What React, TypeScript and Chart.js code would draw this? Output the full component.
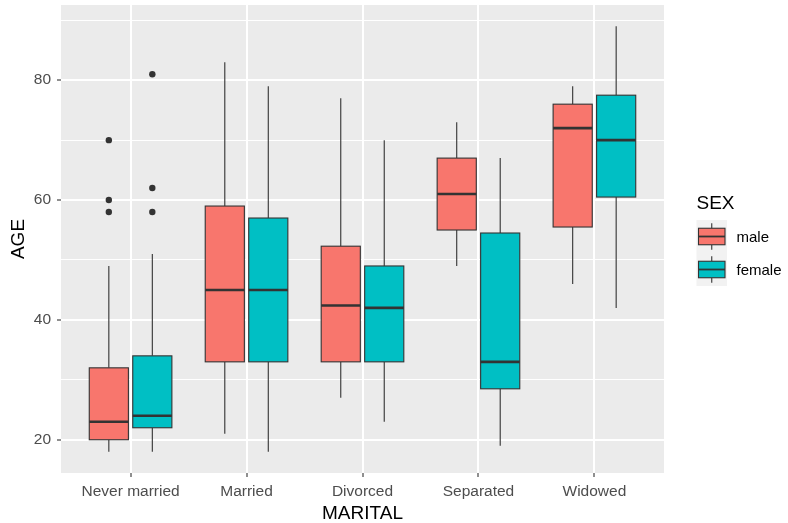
import React, { useEffect, useRef } from 'react';
import { Chart, registerables } from 'chart.js';

Chart.register(...registerables);

const categories = ['Never married', 'Married', 'Divorced', 'Separated', 'Widowed'];
const seriesNames = ['male', 'female'];

const maleMin = [18, 21, 27, 49, 46];
const maleQ1 = [20, 33, 33, 55, 55.5];
const maleMedian = [23, 45, 42.4, 61, 72];
const maleQ3 = [32, 59, 52.3, 67, 76];
const maleMax = [49, 83, 77, 73, 79];
const maleOutliers = [[70, 60, 58], [], [], [], []];

const femaleMin = [18, 18, 23, 19, 42];
const femaleQ1 = [22, 33, 33, 28.5, 60.5];
const femaleMedian = [24, 45, 42, 33, 70];
const femaleQ3 = [34, 57, 49, 54.5, 77.5];
const femaleMax = [51, 79, 70, 67, 89];
const femaleOutliers = [[81, 62, 58], [], [], [], []];

const yTicks = [20, 30, 40, 50, 60, 70, 80, 90];
const yMin = 14.45;
const yMax = 92.55;

const FONT = '"Liberation Sans", Arial, Helvetica, sans-serif';
const MALE_COLOR = '#F8766D';
const FEMALE_COLOR = '#00BFC4';
const OUTLINE = '#333333';

export default function App() {
  const ref = useRef<HTMLCanvasElement>(null);

  useEffect(() => {
    const canvas = ref.current;
    if (!canvas) return;
    const groupOffset = 0.1875;
    const boxHalf = 0.16875;
    const groups = [
      { name: seriesNames[0], color: MALE_COLOR, offset: -groupOffset, min: maleMin, q1: maleQ1, med: maleMedian, q3: maleQ3, max: maleMax, out: maleOutliers },
      { name: seriesNames[1], color: FEMALE_COLOR, offset: groupOffset, min: femaleMin, q1: femaleQ1, med: femaleMedian, q3: femaleQ3, max: femaleMax, out: femaleOutliers },
    ];
    const outlierPoints: { x: number; y: number }[] = [];
    groups.forEach((g) =>
      g.out.forEach((arr, i) => arr.forEach((v) => outlierPoints.push({ x: i + 1 + g.offset, y: v })))
    );

    const boxPlugin = {
      id: 'boxes',
      beforeDraw(chart: any) {
        const { ctx, chartArea: a } = chart;
        ctx.save();
        ctx.fillStyle = '#EBEBEB';
        ctx.fillRect(a.left, a.top, a.right - a.left, a.bottom - a.top);
        ctx.restore();
      },
      beforeDatasetsDraw(chart: any) {
        const { ctx } = chart;
        const xs = chart.scales.x;
        const ys = chart.scales.y;
        ctx.save();
        groups.forEach((g) => {
          categories.forEach((_, i) => {
            const c = i + 1 + g.offset;
            const xc = xs.getPixelForValue(c);
            const xl = xs.getPixelForValue(c - boxHalf);
            const xr = xs.getPixelForValue(c + boxHalf);
            const yMinP = ys.getPixelForValue(g.min[i]);
            const yQ1 = ys.getPixelForValue(g.q1[i]);
            const yMed = ys.getPixelForValue(g.med[i]);
            const yQ3 = ys.getPixelForValue(g.q3[i]);
            const yMaxP = ys.getPixelForValue(g.max[i]);
            ctx.strokeStyle = OUTLINE;
            ctx.lineWidth = 1.1;
            ctx.beginPath();
            ctx.moveTo(xc, yQ3);
            ctx.lineTo(xc, yMaxP);
            ctx.moveTo(xc, yQ1);
            ctx.lineTo(xc, yMinP);
            ctx.stroke();
            ctx.fillStyle = g.color;
            ctx.fillRect(xl, yQ3, xr - xl, yQ1 - yQ3);
            ctx.lineWidth = 1.1;
            ctx.strokeRect(xl, yQ3, xr - xl, yQ1 - yQ3);
            ctx.lineWidth = 2.6;
            ctx.beginPath();
            ctx.moveTo(xl, yMed);
            ctx.lineTo(xr, yMed);
            ctx.stroke();
          });
        });
        ctx.restore();
      },
      afterDraw(chart: any) {
        const { ctx, chartArea: a } = chart;
        ctx.save();
        ctx.fillStyle = '#000000';
        ctx.font = `19px ${FONT}`;
        ctx.textAlign = 'center';
        ctx.textBaseline = 'alphabetic';
        ctx.fillText('MARITAL', (a.left + a.right) / 2, 519);
        ctx.save();
        ctx.translate(23.5, (a.top + a.bottom) / 2);
        ctx.rotate(-Math.PI / 2);
        ctx.fillText('AGE', 0, 0);
        ctx.restore();
        ctx.textAlign = 'left';
        ctx.fillText('SEX', 696.5, 209);
        const keyLeft = 696.5;
        const keyW = 30.5;
        const keyH = 33;
        const keyTop = 220;
        ctx.fillStyle = '#F2F2F2';
        ctx.fillRect(keyLeft, keyTop, keyW, keyH * groups.length);
        groups.forEach((g, k) => {
          const top = keyTop + k * keyH;
          const cx = keyLeft + keyW / 2;
          const bl = keyLeft + 2;
          const br = keyLeft + keyW - 2;
          const bt = top + keyH * 0.25;
          const bb = top + keyH * 0.75;
          ctx.strokeStyle = OUTLINE;
          ctx.lineWidth = 1.1;
          ctx.beginPath();
          ctx.moveTo(cx, top + keyH * 0.1);
          ctx.lineTo(cx, bt);
          ctx.moveTo(cx, bb);
          ctx.lineTo(cx, top + keyH * 0.9);
          ctx.stroke();
          ctx.fillStyle = g.color;
          ctx.fillRect(bl, bt, br - bl, bb - bt);
          ctx.strokeRect(bl, bt, br - bl, bb - bt);
          ctx.lineWidth = 1.8;
          ctx.beginPath();
          ctx.moveTo(bl, top + keyH / 2);
          ctx.lineTo(br, top + keyH / 2);
          ctx.stroke();
          ctx.fillStyle = '#000000';
          ctx.font = `15px ${FONT}`;
          ctx.fillText(g.name, 736.5, top + keyH / 2 + 5.4);
        });
        ctx.restore();
      },
    };

    const chart = new Chart(canvas, {
      type: 'scatter',
      data: {
        datasets: [
          {
            label: 'outliers',
            data: outlierPoints,
            pointRadius: 3.2,
            pointHoverRadius: 3.2,
            backgroundColor: OUTLINE,
            borderWidth: 0,
          },
        ],
      },
      options: {
        animation: false,
        responsive: false,
        events: [],
        layout: { padding: { left: 0, top: 5, right: 124, bottom: 0 } },
        plugins: { legend: { display: false }, tooltip: { enabled: false } },
        scales: {
          x: {
            type: 'linear',
            min: 0.4,
            max: 5.6,
            afterBuildTicks: (scale: any) => {
              scale.ticks = categories.map((_, i) => ({ value: i + 1 }));
            },
            afterFit: (scale: any) => {
              scale.height = 50;
              scale.paddingLeft = 0;
              scale.paddingRight = 0;
              scale.paddingTop = 0;
              scale.paddingBottom = 0;
            },
            border: { display: false },
            grid: {
              color: '#FFFFFF',
              lineWidth: 2,
              tickColor: OUTLINE,
              tickWidth: 1.1,
              tickLength: 4,
            },
            ticks: {
              autoSkip: false,
              maxRotation: 0,
              minRotation: 0,
              padding: 5,
              color: '#4D4D4D',
              font: { family: FONT, size: 15.5 },
              callback: (v: any) => categories[Math.round(Number(v)) - 1] ?? '',
            },
          },
          y: {
            type: 'linear',
            min: yMin,
            max: yMax,
            afterBuildTicks: (scale: any) => {
              scale.ticks = yTicks.map((v) => ({ value: v }));
            },
            afterFit: (scale: any) => {
              scale.width = 61;
              scale.paddingLeft = 0;
              scale.paddingRight = 0;
              scale.paddingTop = 0;
              scale.paddingBottom = 0;
            },
            border: { display: false },
            grid: {
              color: '#FFFFFF',
              lineWidth: (c: any) => (c.tick && c.tick.value % 20 === 0 ? 2 : 1),
              tickColor: (c: any) => (c.tick && c.tick.value % 20 === 0 ? OUTLINE : 'rgba(0,0,0,0)'),
              tickWidth: 1.1,
              tickLength: 4,
            },
            ticks: {
              padding: 6,
              color: '#4D4D4D',
              font: { family: FONT, size: 15.5 },
              callback: (v: any) => (Number(v) % 20 === 0 ? String(v) : ''),
            },
          },
        },
      },
      plugins: [boxPlugin],
    } as any);

    return () => chart.destroy();
  }, []);

  return (
    <div style={{ position: 'absolute', left: 0, top: 0, width: 788, height: 523, background: '#FFFFFF' }}>
      <canvas ref={ref} width={788} height={523} style={{ display: 'block' }} />
    </div>
  );
}
